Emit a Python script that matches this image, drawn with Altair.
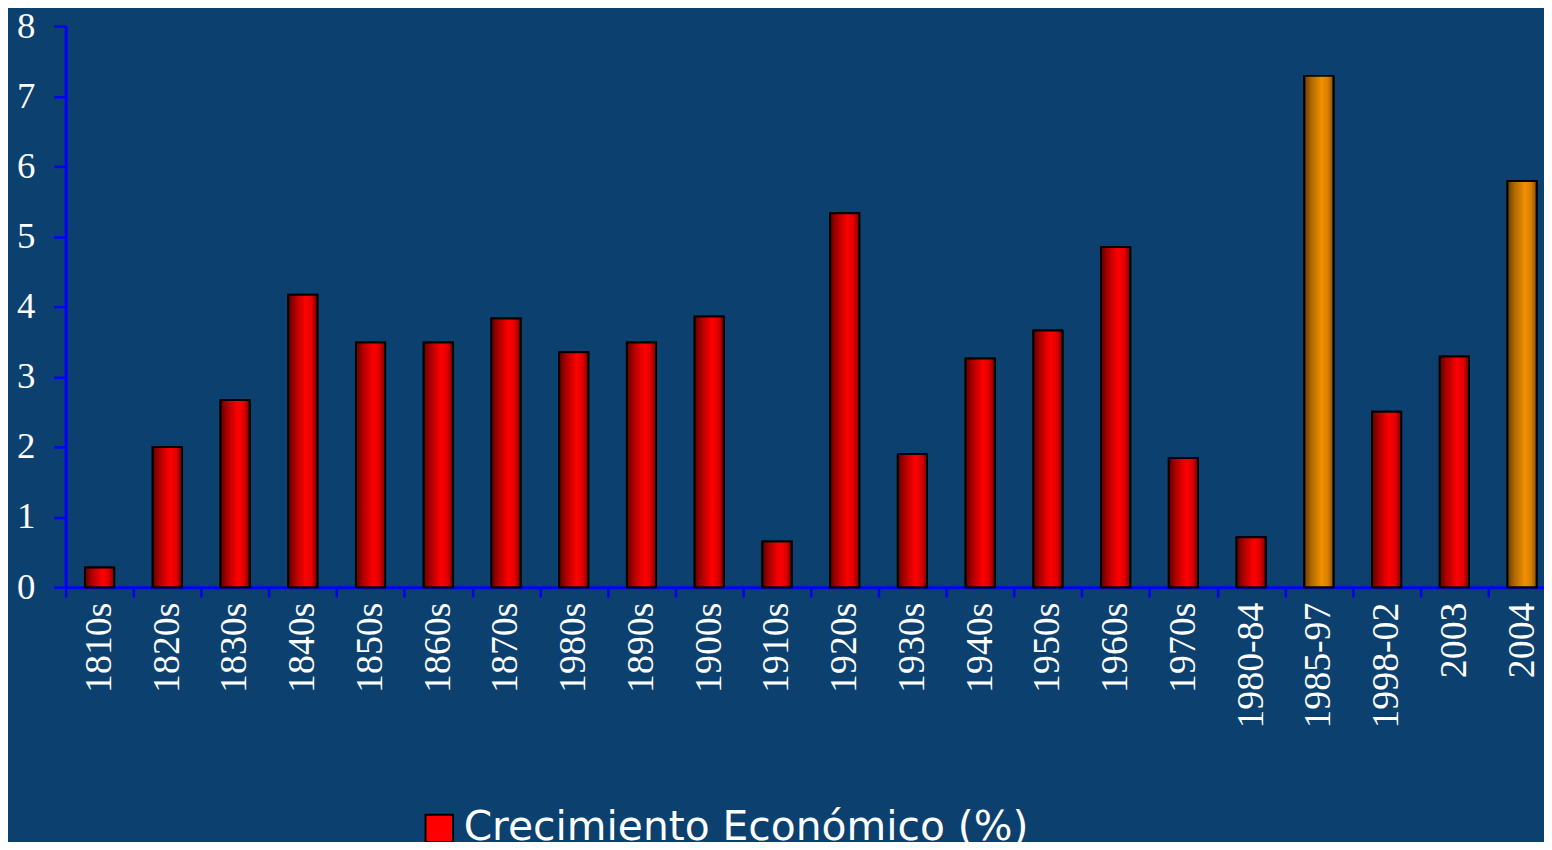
import altair as alt
import pandas as pd

categories = ["1810s", "1820s", "1830s", "1840s", "1850s", "1860s", "1870s", "1980s",
              "1890s", "1900s", "1910s", "1920s", "1930s", "1940s", "1950s", "1960s",
              "1970s", "1980-84", "1985-97", "1998-02", "2003", "2004"]
values = [0.28, 2.0, 2.67, 4.17, 3.49, 3.49, 3.83, 3.35,
          3.49, 3.86, 0.65, 5.33, 1.90, 3.26, 3.66, 4.85,
          1.84, 0.71, 7.29, 2.50, 3.29, 5.79]
highlight = ["1985-97", "2004"]
series_name = "Crecimiento Económico (%)"

df = pd.DataFrame({
    "periodo": categories,
    "valor": values,
    "serie": [series_name] * len(categories),
    "grupo": ["naranja" if c in highlight else "rojo" for c in categories],
})

BG = "#0b406f"
AXIS_BLUE = "#0000ff"
SERIF = "Liberation Serif"

red_grad = alt.LinearGradient(
    gradient="linear", x1=0, x2=1, y1=0, y2=0,
    stops=[
        alt.GradientStop(color="#600000", offset=0),
        alt.GradientStop(color="#b00000", offset=0.25),
        alt.GradientStop(color="#ff0000", offset=0.6),
        alt.GradientStop(color="#e00000", offset=0.8),
        alt.GradientStop(color="#800000", offset=1),
    ],
)
orange_grad = alt.LinearGradient(
    gradient="linear", x1=0, x2=1, y1=0, y2=0,
    stops=[
        alt.GradientStop(color="#6a3c00", offset=0),
        alt.GradientStop(color="#b06a00", offset=0.25),
        alt.GradientStop(color="#f29000", offset=0.6),
        alt.GradientStop(color="#d88000", offset=0.8),
        alt.GradientStop(color="#8a5000", offset=1),
    ],
)

x_enc = alt.X(
    "periodo:N", sort=categories, title=None,
    scale=alt.Scale(range=[0, {"expr": "width * 1498 / 1486"}], paddingInner=0, paddingOuter=0),
    axis=alt.Axis(
        labelAngle=-90, labelFont=SERIF, labelFontSize=38,
        labelColor="white", labelPadding=5, tickBand="extent",
        tickColor=AXIS_BLUE, tickWidth=2.5, tickSize=10,
        domainColor=AXIS_BLUE, domainWidth=3, labelOverlap=False,
    ),
)
y_enc = alt.Y(
    "valor:Q", title=None,
    scale=alt.Scale(domain=[0, 8], nice=False),
    axis=alt.Axis(
        values=[0, 1, 2, 3, 4, 5, 6, 7, 8], format="d",
        labelFont=SERIF, labelFontSize=37, labelColor="white",
        labelPadding=19, tickColor=AXIS_BLUE, tickWidth=2.5, tickSize=12,
        domainColor=AXIS_BLUE, domainWidth=3, grid=False,
    ),
)

bar_w = alt.RelativeBandSize(0.43)

base_bars = alt.Chart(df).mark_bar(stroke="black", strokeWidth=2, width=bar_w).encode(
    x=x_enc, y=y_enc,
    color=alt.Color(
        "serie:N",
        scale=alt.Scale(range=["#ff0000"]),
        legend=alt.Legend(
            title=None, orient="none", legendX=355, legendY=786,
            symbolType="square", symbolSize=760, symbolStrokeColor="black",
            symbolStrokeWidth=2, symbolFillColor="#ff0000",
            labelFont="DejaVu Sans", labelFontSize=41, labelColor="white",
            labelOffset=4, labelLimit=1000,
        ),
    ),
)

red_bars = alt.Chart(df).transform_filter(
    alt.datum.grupo == "rojo"
).mark_bar(fill=red_grad, stroke="black", strokeWidth=2, width=bar_w).encode(x=x_enc, y=y_enc)

orange_bars = alt.Chart(df).transform_filter(
    alt.datum.grupo == "naranja"
).mark_bar(fill=orange_grad, stroke="black", strokeWidth=2, width=bar_w).encode(x=x_enc, y=y_enc)

chart = alt.layer(base_bars, red_bars, orange_bars).properties(
    width=1486, height=564,
    background=BG,
    padding={"left": 58, "top": 16, "right": 0, "bottom": 254},
    autosize=alt.AutoSizeParams(type="none"),
).configure_view(stroke=None).configure_axis(labelFont=SERIF)

chart.save("out.html", embed_options={"renderer": "svg", "actions": False})
